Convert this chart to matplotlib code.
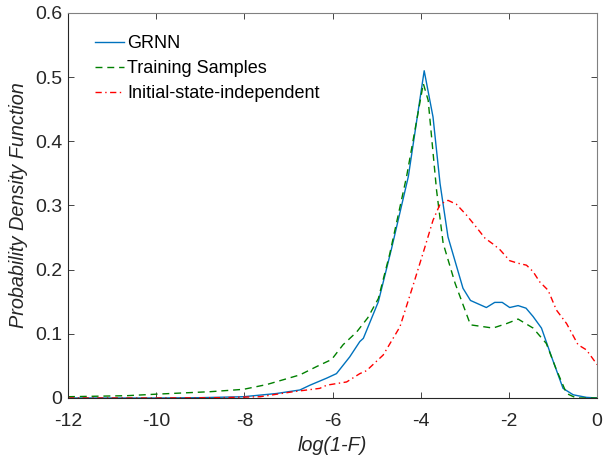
import matplotlib
matplotlib.use("Agg")
import matplotlib.pyplot as plt

plt.rcParams['font.family'] = ['Liberation Sans', 'DejaVu Sans']

# GRNN estimate
grnn_x = [-12, -10, -9, -8.02, -7.27, -6.74, -6.51, -6.13, -5.91, -5.61, -5.38, -5.30, -4.96,
          -4.66, -4.28, -3.92, -3.72, -3.56, -3.38, -3.04, -2.87, -2.51, -2.32, -2.15,
          -1.98, -1.79, -1.61, -1.45, -1.26, -1.03, -0.77, -0.54, -0.24, 0]
grnn_y = [0, 0, 0.0005, 0.002, 0.007, 0.0125, 0.02, 0.031, 0.038, 0.064, 0.088, 0.093, 0.15,
          0.233, 0.345, 0.51, 0.438, 0.334, 0.251, 0.171, 0.152, 0.141, 0.149, 0.149,
          0.141, 0.144, 0.14, 0.127, 0.109, 0.064, 0.015, 0.005, 0.001, 0]

# training samples
train_x = [-12, -10.67, -9.99, -8.78, -8.02, -7.49, -6.74, -6.36, -6.02, -5.76, -5.45,
           -5.20, -4.96, -4.70, -4.32, -3.94, -3.83, -3.64, -3.49, -3.22, -2.87, -2.36,
           -2.05, -1.79, -1.45, -1.15, -0.92, -0.69, -0.47, 0]
train_y = [0.002, 0.0036, 0.006, 0.0098, 0.0135, 0.021, 0.036, 0.049, 0.060, 0.083, 0.103,
           0.125, 0.155, 0.225, 0.345, 0.49, 0.464, 0.324, 0.241, 0.179, 0.114, 0.109,
           0.116, 0.123, 0.109, 0.085, 0.044, 0.007, 0.0, 0]

# initial-state-independent
init_x = [-12, -10, -8.5, -7.64, -6.89, -6.29, -6.13, -5.68, -5.38, -5.23, -4.85, -4.47,
          -4.17, -3.90, -3.72, -3.56, -3.38, -3.19, -2.96, -2.77, -2.54, -2.36, -2.20,
          -1.98, -1.79, -1.60, -1.45, -1.30, -1.11, -0.92, -0.69, -0.43, -0.24, -0.05, 0]
init_y = [0, 0, 0.0005, 0.002, 0.0098, 0.015, 0.02, 0.025, 0.038, 0.0425, 0.067, 0.111,
          0.176, 0.236, 0.277, 0.302, 0.308, 0.302, 0.285, 0.269, 0.249, 0.240, 0.231,
          0.214, 0.210, 0.207, 0.197, 0.181, 0.168, 0.137, 0.116, 0.083, 0.075, 0.057, 0.052]

fig = plt.figure(figsize=(6.03, 4.58), dpi=100)
ax = fig.add_axes([68 / 603, 60 / 458, 529 / 603, 385 / 458])

ax.plot(grnn_x, grnn_y, color='#0072BD', lw=1.0, label='GRNN')
ax.plot(train_x, train_y, color='#008000', lw=1.0, dashes=(5, 3.5), label='Training Samples')
ax.plot(init_x, init_y, color='#FF0000', lw=1.0, dashes=(4.5, 2.5, 1, 2.5),
        label='Initial-state-independent')

ax.set_xlim(-12, 0)
ax.set_ylim(0, 0.6)
ax.set_xticks([-12, -10, -8, -6, -4, -2, 0])
ax.set_xticklabels(['-12', '-10', '-8', '-6', '-4', '-2', '0'])
ax.set_yticks([0, 0.1, 0.2, 0.3, 0.4, 0.5, 0.6])
ax.set_yticklabels(['0', '0.1', '0.2', '0.3', '0.4', '0.5', '0.6'])
ax.tick_params(direction='in', length=4, width=0.6, labelsize=14, colors='#262626',
               top=True, right=True)
ax.tick_params(axis='x', pad=11)
ax.tick_params(axis='y', pad=4)
for s in ['left', 'bottom']:
    ax.spines[s].set_color('#262626')
    ax.spines[s].set_linewidth(0.8)
for s in ['top', 'right']:
    ax.spines[s].set_color('#808080')
    ax.spines[s].set_linewidth(0.8)

ax.set_xlabel('log(1-F)', fontsize=14.3, style='italic', color='#262626', labelpad=4)
ax.set_ylabel('Probability Density Function', fontsize=14.3, style='italic',
              color='#262626', labelpad=5)

ax.legend(loc='upper left', frameon=False, fontsize=13, handlelength=1.6,
          handletextpad=0.2, labelspacing=0.45, bbox_to_anchor=(0.02, 0.985))

fig.savefig('out.png', dpi=100)
